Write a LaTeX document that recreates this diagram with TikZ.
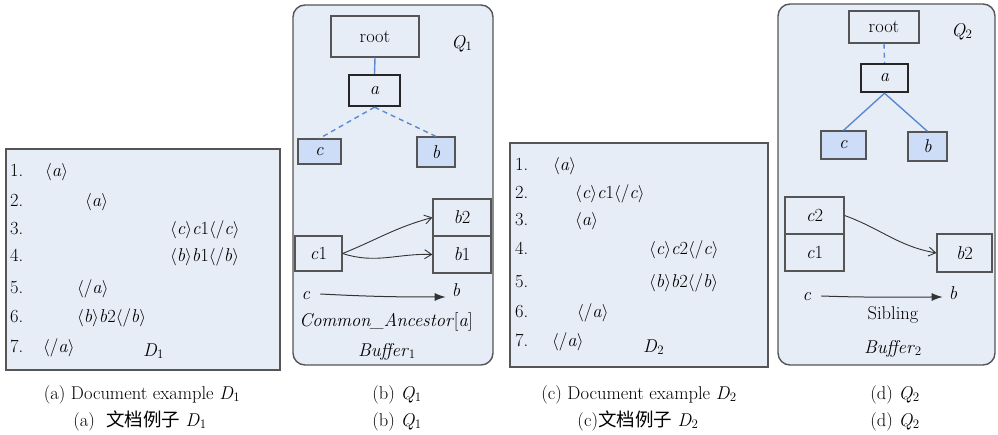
\documentclass[tikz,border=0pt]{standalone}
\usepackage{fontspec}
\newfontfamily\cjk{Noto Sans CJK SC}
\usetikzlibrary{arrows.meta}
\definecolor{panel}{HTML}{E7EDF7}
\definecolor{leaf}{HTML}{CDDDF8}
\definecolor{edgeblue}{HTML}{5A8AD0}
\definecolor{frame}{HTML}{555555}
\newcommand{\tg}[1]{$\langle$#1$\rangle$}
\newcommand{\iv}[1]{\textit{#1}}
\tikzset{
  txt/.style={inner sep=0pt, text height=13pt, text depth=4.5pt, anchor=west},
  ctr/.style={inner sep=0pt, text height=13pt, text depth=4.5pt},
  box/.style={draw=frame, line width=1.2pt, inner sep=0pt},
  thickbox/.style={draw=black!85, line width=2.4pt, inner sep=0pt, fill=panel},
  leafbox/.style={box, fill=leaf},
  bufbox/.style={box, fill=panel},
  docpanel/.style={draw=frame, line width=1.6pt, fill=panel},
  qpanel/.style={draw=frame, line width=1.4pt, fill=panel, rounded corners=12pt},
  treeedge/.style={draw=edgeblue, line width=1.4pt},
  openarrow/.style={-{Straight Barb[length=7pt,width=9pt]}, line width=0.9pt, draw=black!80},
  fillarrow/.style={-{Latex[length=11pt,width=8pt]}, line width=1pt, draw=black!80},
}
\begin{document}
\begin{tikzpicture}[x=1pt,y=-1pt, font=\fontsize{18.5}{22}\selectfont]
\useasboundingbox (0,0) rectangle (998,435);

% ---------- (a) document D1 ----------
\draw[docpanel] (6,149) rectangle (280,370);
\node[txt] (a1n) at (10,172) {1.};
\node[txt] (a1t) at (45,172) {\tg{\iv{a}}};
\node[txt] (a2n) at (10,202) {2.};
\node[txt] (a2t) at (85,202) {\tg{\iv{a}}};
\node[txt] (a3n) at (10,230) {3.};
\node[txt] (a3t) at (170,230) {\tg{\iv{c}}\iv{c}1\tg{/\iv{c}}};
\node[txt] (a4n) at (10,257) {4.};
\node[txt] (a4t) at (170,257) {\tg{\iv{b}}\iv{b}1\tg{/\iv{b}}};
\node[txt] (a5n) at (10,289) {5.};
\node[txt] (a5t) at (77,289) {\tg{/\iv{a}}};
\node[txt] (a6n) at (10,318) {6.};
\node[txt] (a6t) at (77,318) {\tg{\iv{b}}\iv{b}2\tg{/\iv{b}}};
\node[txt] (a7n) at (10,348) {7.};
\node[txt] (a7t) at (43,348) {\tg{/\iv{a}}};
\node[txt] (aD) at (143,352) {\iv{D}\textsubscript{1}};
\node[ctr] (capa1) at (142,395) {(a) Document example \iv{D}\textsubscript{1}};
\node[ctr] (capa2) at (140,422) {(a)\ \ {\cjk 文档例子} \iv{D}\textsubscript{1}};

% ---------- (b) Q1 ----------
\draw[qpanel] (293,5) rectangle (493,365);
\node[box, fill=panel, minimum width=88pt, minimum height=41pt] (root1) at (375,36.5) {root};
\node[ctr] (q1lab) at (462,44) {\iv{Q}\textsubscript{1}};
\node[thickbox, minimum width=51pt, minimum height=31pt] (qa1) at (374.5,90.5) {\iv{a}};
\node[leafbox, minimum width=43pt, minimum height=25pt] (qc1) at (319.5,151.5) {\iv{c}};
\node[leafbox, minimum width=38pt, minimum height=30pt] (qb1) at (436,152) {\iv{b}};
\draw[treeedge] (root1.south) -- (qa1.north);
\draw[treeedge, dashed, dash pattern=on 5pt off 4pt] (qa1.south) -- (qc1.north);
\draw[treeedge, dashed, dash pattern=on 5pt off 4pt] (qa1.south) -- (qb1.north);

\node[bufbox, minimum width=47pt, minimum height=35pt] (bc1) at (318.5,253.5) {\iv{c}1};
\node[bufbox, minimum width=58pt, minimum height=37pt] (bb2) at (462,217.5) {\iv{b}2};
\node[bufbox, minimum width=58pt, minimum height=37pt] (bb1) at (462,254.5) {\iv{b}1};
\draw[openarrow] (bc1.east) to[out=22,in=195] (bb2.west);
\draw[openarrow] (bc1.east) to[out=-18,in=178] (bb1.west);

\node[ctr] (cq1) at (306,295) {\iv{c}};
\node[ctr] (bq1) at (456,292) {\iv{b}};
\draw[fillarrow] (cq1.east) ++(10,-1) coordinate (s1) to[out=-3,in=180] ([xshift=-6pt]bq1.west |- 0,297);
\node[ctr] (ca) at (386,322) {\iv{Common\_Ancestor}[\iv{a}]};
\node[ctr] (buf1) at (387,352) {\iv{Buffer}\textsubscript{1}};
\node[ctr] (capb1) at (397,395) {(b) \iv{Q}\textsubscript{1}};
\node[ctr] (capb2) at (397,422) {(b) \iv{Q}\textsubscript{1}};

% ---------- (c) document D2 ----------
\draw[docpanel] (510,143) rectangle (768,367);
\node[txt] (c1n) at (515,166) {1.};
\node[txt] (c1t) at (553,166) {\tg{\iv{a}}};
\node[txt] (c2n) at (515,194) {2.};
\node[txt] (c2t) at (575,194) {\tg{\iv{c}}\iv{c}1\tg{/\iv{c}}};
\node[txt] (c3n) at (515,221) {3.};
\node[txt] (c3t) at (575,221) {\tg{\iv{a}}};
\node[txt] (c4n) at (515,250) {4.};
\node[txt] (c4t) at (649,250) {\tg{\iv{c}}\iv{c}2\tg{/\iv{c}}};
\node[txt] (c5n) at (515,283) {5.};
\node[txt] (c5t) at (649,283) {\tg{\iv{b}}\iv{b}2\tg{/\iv{b}}};
\node[txt] (c6n) at (515,313) {6.};
\node[txt] (c6t) at (577,313) {\tg{/\iv{a}}};
\node[txt] (c7n) at (515,342) {7.};
\node[txt] (c7t) at (552,342) {\tg{/\iv{a}}};
\node[txt] (cD) at (643,348) {\iv{D}\textsubscript{2}};
\node[ctr] (capc1) at (639,395) {(c) Document example \iv{D}\textsubscript{2}};
\node[ctr] (capc2) at (638,422) {(c){\cjk 文档例子} \iv{D}\textsubscript{2}};

% ---------- (d) Q2 ----------
\draw[qpanel] (778,4) rectangle (995,365);
\node[box, fill=panel, minimum width=70pt, minimum height=32pt] (root2) at (884,27) {root};
\node[ctr] (q2lab) at (962,32) {\iv{Q}\textsubscript{2}};
\node[thickbox, minimum width=47pt, minimum height=28pt] (qa2) at (884.5,78) {\iv{a}};
\node[leafbox, minimum width=45pt, minimum height=28pt] (qc2) at (843.5,145) {\iv{c}};
\node[leafbox, minimum width=39pt, minimum height=29pt] (qb2) at (927.5,146.5) {\iv{b}};
\draw[treeedge, dashed, dash pattern=on 5pt off 4pt] (root2.south) -- (qa2.north);
\draw[treeedge] (qa2.south) -- (qc2.north);
\draw[treeedge] (qa2.south) -- (qb2.north);

\node[bufbox, minimum width=59pt, minimum height=37pt] (dc2) at (814.5,215.5) {\iv{c}2};
\node[bufbox, minimum width=59pt, minimum height=37pt] (dc1) at (814.5,252.5) {\iv{c}1};
\node[bufbox, minimum width=55pt, minimum height=38pt] (db2) at (964.5,253) {\iv{b}2};
\draw[openarrow] (dc2.east) to[out=-20,in=170] (db2.west);

\node[ctr] (cq2) at (807,296) {\iv{c}};
\node[ctr] (bq2) at (953,295) {\iv{b}};
\draw[fillarrow] (cq2.east) ++(10,0) coordinate (s2) to[out=-2,in=180] ([xshift=-6pt]bq2.west |- 0,297);
\node[ctr] (sib) at (893,315) {Sibling};
\node[ctr] (buf2) at (893,349) {\iv{Buffer}\textsubscript{2}};
\node[ctr] (capd1) at (895,395) {(d) \iv{Q}\textsubscript{2}};
\node[ctr] (capd2) at (895,422) {(d) \iv{Q}\textsubscript{2}};
\end{tikzpicture}
\end{document}
